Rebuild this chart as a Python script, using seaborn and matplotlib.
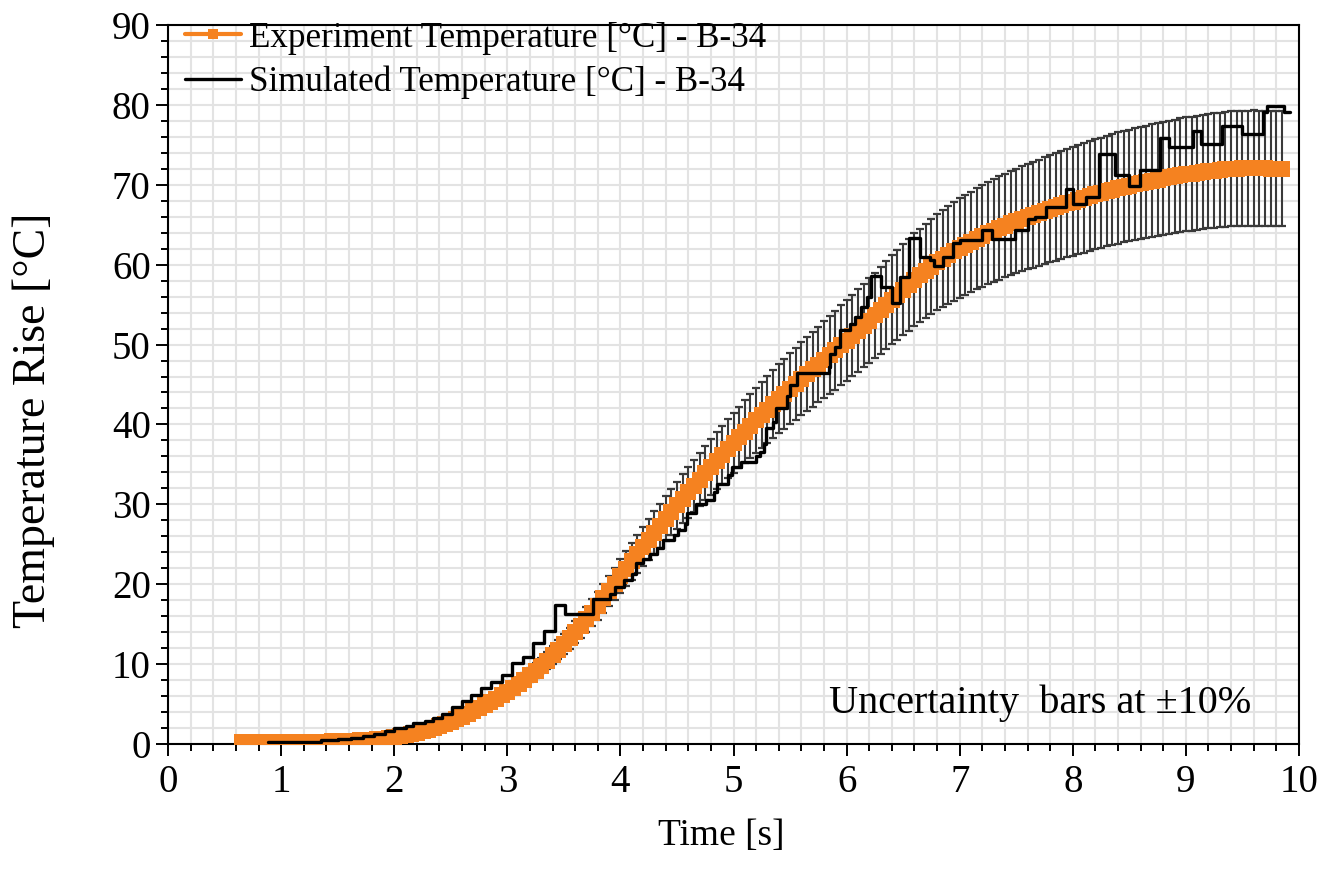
import numpy as np
import matplotlib
matplotlib.use("Agg")
import matplotlib.pyplot as plt
from matplotlib.ticker import MultipleLocator
import seaborn as sns

# ---------------- data ----------------
# Experiment (sampled every 0.05 s from 0.65 s to 9.85 s)
exp_time = np.round(np.arange(65, 986, 5) / 100.0, 2)
exp_temp = np.array([
    0.20, 0.20, 0.20, 0.20, 0.20, 0.21, 0.21,
    0.22, 0.22, 0.23, 0.24, 0.25, 0.26, 0.27, 0.28, 0.30, 0.32,
    0.34, 0.37, 0.40, 0.43, 0.47, 0.51, 0.55, 0.62, 0.69, 0.77,
    0.85, 0.97, 1.10, 1.25, 1.40, 1.58, 1.78, 1.98, 2.20, 2.48,
    2.78, 3.08, 3.40, 3.76, 4.13, 4.51, 4.90, 5.29, 5.69, 6.09,
    6.50, 7.00, 7.52, 8.05, 8.60, 9.20, 9.82, 10.45, 11.10, 11.80,
    12.52, 13.25, 14.00, 14.80, 15.62, 16.45, 17.30, 18.22, 19.15, 20.08,
    21.00, 21.93, 22.86, 23.78, 24.70, 25.58, 26.46, 27.33, 28.20, 29.03,
    29.86, 30.68, 31.50, 32.30, 33.10, 33.90, 34.70, 35.45, 36.20, 36.95,
    37.70, 38.40, 39.10, 39.80, 40.50, 41.18, 41.85, 42.53, 43.20, 43.83,
    44.45, 45.08, 45.70, 46.30, 46.90, 47.50, 48.10, 48.70, 49.30, 49.90,
    50.50, 51.13, 51.75, 52.38, 53.00, 53.65, 54.30, 54.95, 55.60, 56.23,
    56.85, 57.48, 58.10, 58.66, 59.21, 59.76, 60.30, 60.76, 61.21, 61.66,
    62.10, 62.48, 62.86, 63.23, 63.60, 63.93, 64.26, 64.58, 64.90, 65.18,
    65.46, 65.73, 66.00, 66.25, 66.50, 66.75, 67.00, 67.23, 67.45, 67.68,
    67.90, 68.13, 68.35, 68.58, 68.80, 69.00, 69.20, 69.40, 69.60, 69.75,
    69.90, 70.05, 70.20, 70.35, 70.50, 70.65, 70.80, 70.93, 71.05, 71.18,
    71.30, 71.40, 71.50, 71.60, 71.70, 71.78, 71.85, 71.93, 72.00, 72.03,
    72.05, 72.08, 72.10, 72.08, 72.05, 72.03, 72.00, 72.00,
])
uncertainty = 0.10  # +/-10 %

# Simulated (step changes: time [s], value held until next time)
sim_time = [0.88, 1.20, 1.35, 1.50, 1.62, 1.72, 1.82, 1.92, 2.00, 2.10,
            2.17, 2.27, 2.34, 2.42, 2.51, 2.60, 2.68, 2.77, 2.86, 2.95,
            3.04, 3.14, 3.23, 3.32, 3.42, 3.51, 3.76, 3.91, 3.95, 4.03,
            4.10, 4.14, 4.20, 4.26, 4.32, 4.38, 4.47, 4.51, 4.57, 4.59,
            4.67, 4.76, 4.83, 4.85, 4.95, 4.99, 5.07, 5.20, 5.23, 5.27,
            5.29, 5.35, 5.38, 5.47, 5.50, 5.56, 5.84, 5.85, 5.90, 5.94,
            6.03, 6.07, 6.13, 6.18, 6.22, 6.30, 6.40, 6.47, 6.55, 6.65,
            6.74, 6.77, 6.85, 6.94, 7.00, 7.20, 7.29, 7.49, 7.60, 7.67,
            7.76, 7.94, 8.00, 8.12, 8.23, 8.37, 8.50, 8.59, 8.77, 8.85,
            9.06, 9.13, 9.32, 9.50, 9.68, 9.72, 9.87, 9.92]
sim_temp = [0.2, 0.3, 0.45, 0.6, 0.8, 1.0, 1.3, 1.6, 2.0, 2.3,
            2.6, 2.9, 3.2, 3.8, 4.6, 5.4, 6.1, 7.0, 7.8, 8.6,
            10.1, 10.9, 12.6, 14.2, 17.4, 16.3, 18.2, 18.8, 19.6, 20.5,
            21.3, 22.6, 23.2, 23.8, 24.5, 25.5, 26.2, 26.8, 27.6, 28.9,
            30.0, 30.5, 31.6, 32.6, 33.7, 34.7, 35.3, 36.0, 36.6, 37.6,
            39.5, 40.3, 42.0, 43.5, 44.9, 46.4, 47.2, 48.8, 49.7, 51.8,
            52.6, 53.5, 54.7, 56.0, 58.6, 57.2, 55.2, 58.5, 63.4, 61.0,
            60.6, 59.8, 61.0, 62.7, 63.1, 64.4, 63.2, 64.4, 65.7, 66.0,
            67.2, 69.5, 67.6, 68.5, 73.9, 71.2, 69.9, 71.9, 75.8, 74.7,
            76.7, 75.1, 77.4, 76.4, 79.1, 79.9, 79.1, 79.1]

label_exp = "Experiment Temperature [°C] - B-34"
label_sim = "Simulated Temperature [°C] - B-34"
note_text = "Uncertainty  bars at \u00b110%"
x_label = "Time [s]"
y_label = "Temperature Rise [°C]"

# ---------------- style ----------------
sns.set_theme(style="white")
plt.rcParams["font.family"] = ["Liberation Serif", "DejaVu Serif"]
for key in ["text.color", "axes.labelcolor", "xtick.color", "ytick.color",
            "xtick.labelcolor", "ytick.labelcolor"]:
    plt.rcParams[key] = "black"

ORANGE = "#F58220"
GRID = "#E3E3E3"

fig = plt.figure(figsize=(13.39, 8.83), dpi=100)
ax = fig.add_axes([0.1255, 0.1574, 0.8446, 0.8143])

# error bars (behind)
ax.errorbar(exp_time, exp_temp, yerr=uncertainty * exp_temp, fmt="none",
            ecolor="#3A3A3A", elinewidth=1.5, capsize=3.0, capthick=1.6,
            zorder=2)

sns.lineplot(x=exp_time, y=exp_temp, ax=ax, color=ORANGE, lw=3,
             marker="s", markersize=12, markeredgecolor=ORANGE,
             markeredgewidth=0, label=label_exp, zorder=3,
             estimator=None, errorbar=None, sort=False)
sns.lineplot(x=sim_time, y=sim_temp, ax=ax, color="black", lw=2.4,
             drawstyle="steps-post", label=label_sim, zorder=4,
             estimator=None, errorbar=None, sort=False)

ax.set_xlim(0, 10)
ax.set_ylim(0, 90)
ax.xaxis.set_major_locator(MultipleLocator(1))
ax.xaxis.set_minor_locator(MultipleLocator(0.2))
ax.yaxis.set_major_locator(MultipleLocator(10))
ax.yaxis.set_minor_locator(MultipleLocator(2))

ax.grid(True, which="both", color=GRID, lw=1.5, zorder=0)
ax.set_axisbelow(True)

for s in ax.spines.values():
    s.set_visible(True)
    s.set_color("black")
    s.set_linewidth(1.5)

ax.tick_params(axis="both", which="major", direction="out", length=8.5,
               width=1.4, color="black", labelsize=28, pad=4,
               bottom=True, left=True)
ax.tick_params(axis="both", which="minor", direction="out", length=5,
               width=1.4, color="black", bottom=True, left=True)
ax.tick_params(axis="x", which="major", pad=6)

ax.set_xlabel(x_label, fontsize=27)
ax.xaxis.set_label_coords(0.489, -0.103)
ax.set_ylabel(y_label, fontsize=33)
ax.yaxis.set_label_coords(-0.1, 0.45)

ax.text(0.958, 0.043, note_text, transform=ax.transAxes, ha="right",
        va="baseline", fontsize=29, color="black", zorder=5)

leg = ax.legend(loc="upper left", bbox_to_anchor=(0.01, 1.012), frameon=False,
                fontsize=25.2, handlelength=1.6, handletextpad=0.25,
                markerscale=0.65, labelspacing=0.32, borderaxespad=0.0,
                borderpad=0.15)

fig.savefig("out.png", dpi=100)
